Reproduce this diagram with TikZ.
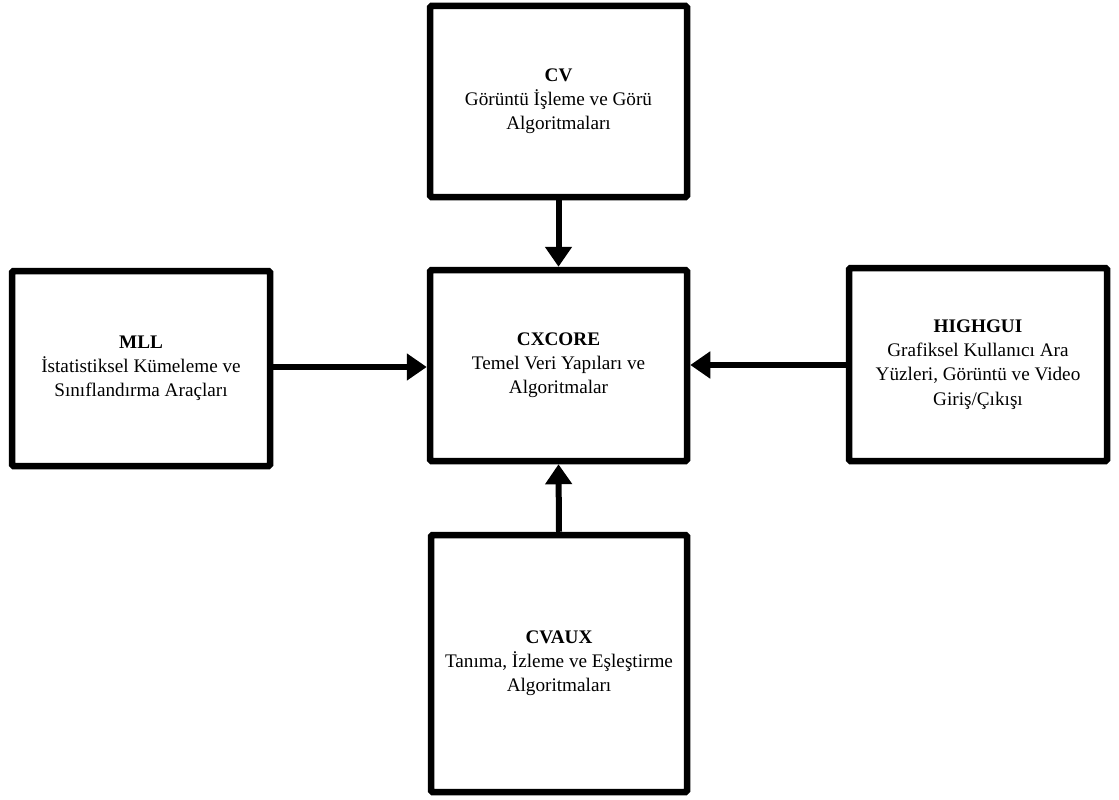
\documentclass[tikz,border=0pt]{standalone}
\usepackage{fontspec}
\setmainfont{Liberation Serif}
\usetikzlibrary{arrows.meta,shadows}
\begin{document}
\begin{tikzpicture}[x=1pt,y=-1pt,
  modbox/.style={draw=black, line width=6.5pt, fill=white, rectangle, rounded corners=1.5pt,
    align=center, font=\fontsize{19.2}{24.2}\selectfont, inner sep=0pt,
    drop shadow={shadow xshift=2pt, shadow yshift=-2pt, opacity=0.25, fill=black}},
  link/.style={line width=6pt, -{Triangle[length=20pt,width=26pt]}, shorten >=0pt}]
  \useasboundingbox (0,0) rectangle (1119,800);
  \node[modbox, minimum width=257pt, minimum height=191pt] (cv) at (558.5,101.5)
    {\textbf{CV}\\Görüntü İşleme ve Görü\\Algoritmaları};
  \node[modbox, minimum width=257pt, minimum height=191pt] (core) at (558.5,365.5)
    {\textbf{CXCORE}\\Temel Veri Yapıları ve\\Algoritmalar};
  \node[modbox, minimum width=258pt, minimum height=195pt] (mll) at (141,368.5)
    {\textbf{MLL}\\İstatistiksel Kümeleme ve\\Sınıflandırma Araçları};
  \node[modbox, minimum width=258pt, minimum height=193pt] (gui) at (978,364.5)
    {\textbf{HIGHGUI}\\Grafiksel Kullanıcı Ara\\Yüzleri, Görüntü ve Video\\Giriş/Çıkışı};
  \node[modbox, minimum width=256pt, minimum height=257pt] (aux) at (559,663.5)
    {\textbf{CVAUX}\\Tanıma, İzleme ve Eşleştirme\\Algoritmaları};
  \draw[link] (cv.south) -- (core.north);
  \draw[link] (aux.north) -- (core.south);
  \draw[link] (mll.east |- 0,367) -- (core.west |- 0,367);
  \draw[link] (gui.west |- 0,365) -- (core.east |- 0,365);
\end{tikzpicture}
\end{document}
